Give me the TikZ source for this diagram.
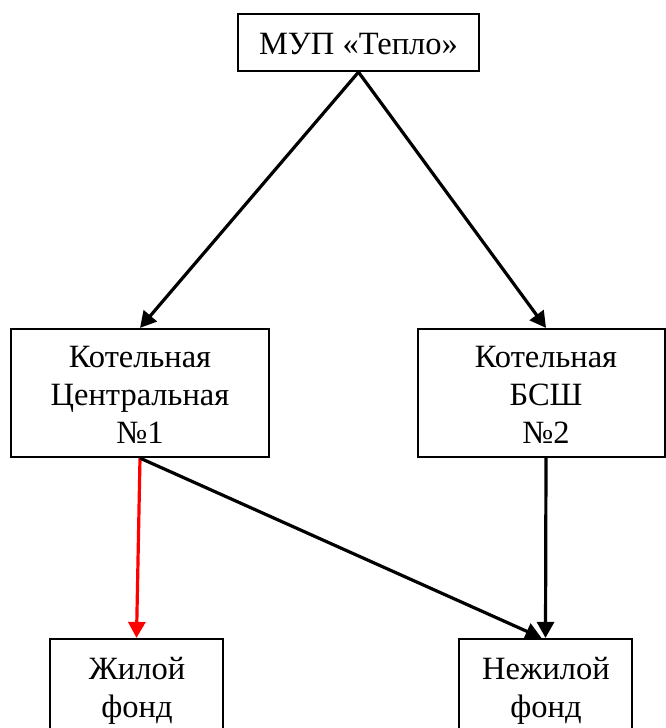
\documentclass[tikz,border=0pt]{standalone}
\usepackage{fontspec}
\setmainfont{Liberation Serif}
\usetikzlibrary{arrows.meta,calc}
\begin{document}
\begin{tikzpicture}[x=1pt,y=-1pt,
  boxnode/.style={draw=black, line width=2.2pt, inner sep=0pt},
  txt/.style={align=center, inner sep=0pt, font=\fontsize{32.5}{38}\selectfont},
  arr/.style={line width=3.2pt, -{Triangle[length=16pt,width=17pt]}},
]
\useasboundingbox (0,0) rectangle (666,728);
\clip (0,0) rectangle (666,728);
\fill[white] (0,0) rectangle (666,728);
% boxes
\node[boxnode, minimum width=241pt, minimum height=57pt] (top) at (358.5,42.5) {};
\node[boxnode, minimum width=258pt, minimum height=128pt] (k1) at (140,393) {};
\node[boxnode, minimum width=247pt, minimum height=128pt] (k2) at (541.5,393) {};
\node[boxnode, minimum width=173pt, minimum height=141pt] (z1) at (136.5,709.5) {};
\node[boxnode, minimum width=173pt, minimum height=141pt] (z2) at (545.5,709.5) {};
% texts
\node[txt] (t0) at (358.5,44) {МУП «Тепло»};
\node[txt] (t1) at (140,395) {Котельная\\Центральная\\№1};
\node[txt] (t2) at (546,395) {Котельная\\БСШ\\№2};
\node[txt] (t3) at (137,691) {Жилой\\фонд};
\node[txt] (t4) at (546,691) {Нежилой\\фонд};
% connectors
\draw[arr] (top.south) -- (k1.north);
\draw[arr] (top.south) -- (t2 |- k2.north);
\draw[arr, red] (k1.south) -- (z1.north);
\draw[arr] (k1.south) -- ($(z2.north)+(-4,0)$);
\draw[arr] (t2 |- k2.south) -- (z2.north);
\end{tikzpicture}
\end{document}
